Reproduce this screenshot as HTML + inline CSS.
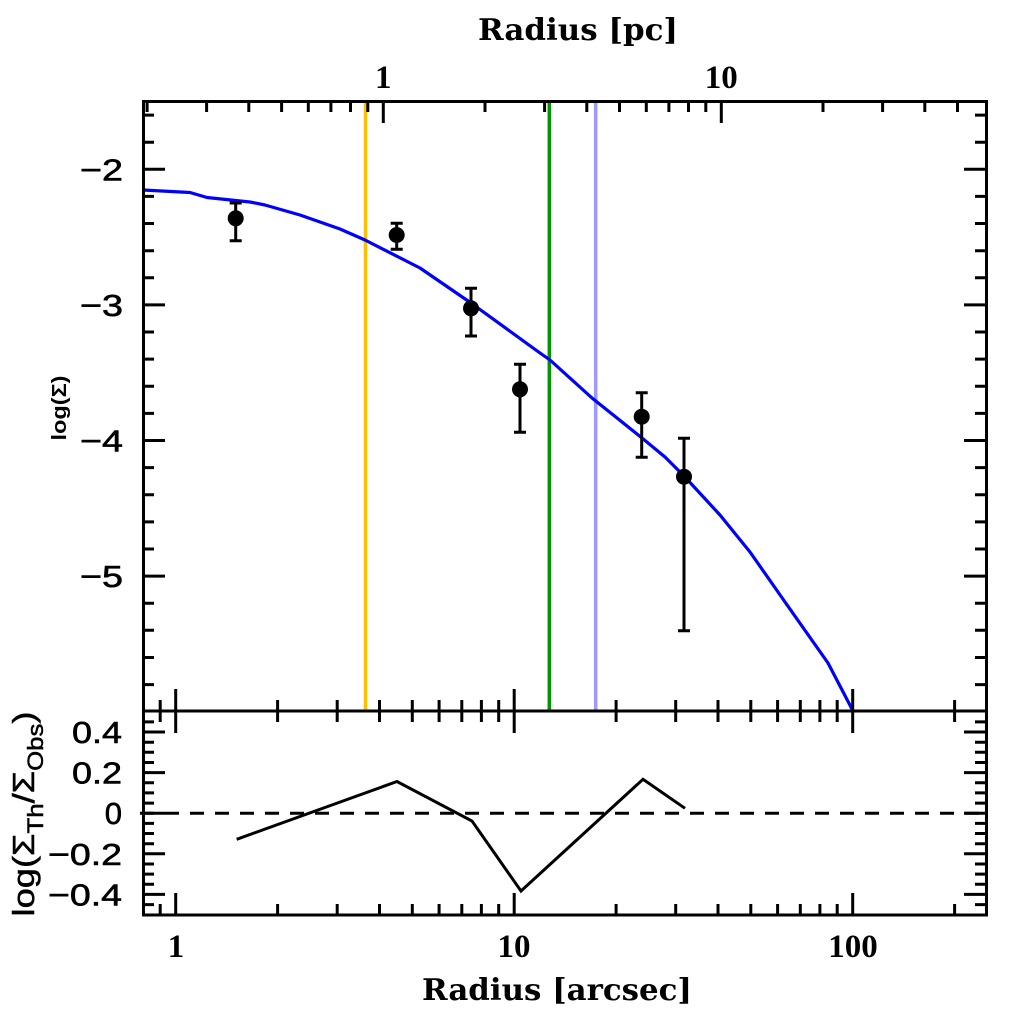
<!DOCTYPE html>
<html><head><meta charset="utf-8"><style>
html,body{margin:0;padding:0;background:#fff;}
svg{display:block;}
</style></head><body>
<svg xmlns="http://www.w3.org/2000/svg" width="1024" height="1024" viewBox="0 0 1024 1024">
<rect x="0" y="0" width="1024" height="1024" fill="#fff"/>
<!-- vertical reference lines -->
<g stroke-width="3.5" fill="none">
<line x1="365.5" y1="102" x2="365.5" y2="711" stroke="#ffc000"/>
<line x1="549.3" y1="102" x2="549.3" y2="711" stroke="#009600"/>
<line x1="595.7" y1="102" x2="595.7" y2="711" stroke="#9a9aff"/>
</g>
<!-- model curve -->
<polyline fill="none" stroke="#0000ff" stroke-width="3.2" stroke-linejoin="round" points="143,190 190,192.5 207,197.5 250,202 265,205 300,215 340,229 365,240 420,268 471,303 540,353 550,360 592,398 642,438 665,457 684,476 720,515 750,552 785,602 828,663 853,711"/>
<!-- error bars -->
<g stroke="#000" stroke-width="3" fill="none">
<path d="M235.7 203V240.7M229.7 203h12M229.7 240.7h12"/>
<path d="M396.7 223.3V249.3M390.7 223.3h12M390.7 249.3h12"/>
<path d="M471 288.3V336M465 288.3h12M465 336h12"/>
<path d="M520 364.3V432.3M514 364.3h12M514 432.3h12"/>
<path d="M641.7 392.7V457.3M635.7 392.7h12M635.7 457.3h12"/>
<path d="M684 438.3V630.7M678 438.3h12M678 630.7h12"/>
</g>
<g fill="#000">
<circle cx="235.7" cy="218.3" r="8"/>
<circle cx="396.7" cy="235" r="8"/>
<circle cx="471" cy="308.3" r="8"/>
<circle cx="520" cy="389.3" r="8"/>
<circle cx="641.7" cy="416.7" r="8"/>
<circle cx="684" cy="476.7" r="8"/>
</g>
<!-- residual panel -->
<line x1="140" y1="813.2" x2="986" y2="813.2" stroke="#000" stroke-width="3" stroke-dasharray="14 11"/>
<polyline fill="none" stroke="#000" stroke-width="3" stroke-linejoin="miter" points="236.7,839.3 397,781.5 472,821 521,891 643,779.3 685,808.3"/>
<!-- frame -->
<g stroke="#000" stroke-width="3" fill="none">
<rect x="143.5" y="101.5" width="843" height="813.5"/>
<line x1="143.5" y1="711" x2="986.5" y2="711"/>
<!-- left/right main ticks -->
<path d="M143 169.3h22M143 304.9h22M143 440.5h22M143 576.1h22
M143 115.1h11M143 142.2h11M143 196.4h11M143 223.5h11M143 250.7h11M143 277.8h11M143 332h11M143 359.1h11M143 386.3h11M143 413.4h11M143 467.6h11M143 494.7h11M143 521.9h11M143 549h11M143 603.2h11M143 630.3h11M143 657.5h11M143 684.6h11"/>
<path d="M986 169.3h-22M986 304.9h-22M986 440.5h-22M986 576.1h-22
M986 115.1h-11M986 142.2h-11M986 196.4h-11M986 223.5h-11M986 250.7h-11M986 277.8h-11M986 332h-11M986 359.1h-11M986 386.3h-11M986 413.4h-11M986 467.6h-11M986 494.7h-11M986 521.9h-11M986 549h-11M986 603.2h-11M986 630.3h-11M986 657.5h-11M986 684.6h-11"/>
<!-- left/right residual ticks -->
<path d="M143 732h22M143 772.6h22M143 813.2h22M143 853.8h22M143 894.4h22
M143 721.9h11M143 742.2h11M143 752.3h11M143 762.5h11M143 782.8h11M143 792.9h11M143 803.1h11M143 823.4h11M143 833.5h11M143 843.7h11M143 864h11M143 874.1h11M143 884.3h11M143 904.6h11"/>
<path d="M986 732h-22M986 772.6h-22M986 813.2h-22M986 853.8h-22M986 894.4h-22
M986 721.9h-11M986 742.2h-11M986 752.3h-11M986 762.5h-11M986 782.8h-11M986 792.9h-11M986 803.1h-11M986 823.4h-11M986 833.5h-11M986 843.7h-11M986 864h-11M986 874.1h-11M986 884.3h-11M986 904.6h-11"/>
<!-- top pc ticks -->
<path d="M383.3 101v22M721.3 101v22
M147.1 101v11M206.6 101v11M248.8 101v11M281.6 101v11M308.3 101v11M330.9 101v11M350.5 101v11M367.8 101v11M485 101v11M544.6 101v11M586.8 101v11M619.5 101v11M646.3 101v11M668.9 101v11M688.5 101v11M705.8 101v11M823 101v11M882.6 101v11M924.8 101v11M957.5 101v11"/>
<!-- divider ticks -->
<path d="M175.7 689v44M514.2 689v44M852.7 689v44
M160.2 700v22M277.6 700v22M337.2 700v22M379.5 700v22M412.3 700v22M439.1 700v22M461.8 700v22M481.4 700v22M498.7 700v22M616.1 700v22M675.7 700v22M718 700v22M750.8 700v22M777.6 700v22M800.3 700v22M819.9 700v22M837.2 700v22M954.6 700v22"/>
<!-- bottom ticks -->
<path d="M175.7 915v-22M514.2 915v-22M852.7 915v-22
M160.2 915v-11M277.6 915v-11M337.2 915v-11M379.5 915v-11M412.3 915v-11M439.1 915v-11M461.8 915v-11M481.4 915v-11M498.7 915v-11M616.1 915v-11M675.7 915v-11M718 915v-11M750.8 915v-11M777.6 915v-11M800.3 915v-11M819.9 915v-11M837.2 915v-11M954.6 915v-11"/>
</g>
<!-- titles -->
<g font-family="'DejaVu Serif', 'Liberation Serif', serif" font-weight="bold" font-size="30" fill="#000" text-anchor="middle">
<text x="578" y="40" textLength="200" lengthAdjust="spacingAndGlyphs">Radius [pc]</text>
<text x="557" y="1000" textLength="270" lengthAdjust="spacingAndGlyphs">Radius [arcsec]</text>
</g>
<!-- x tick labels -->
<g font-family="'Liberation Serif', serif" font-weight="bold" font-size="33" fill="#000" text-anchor="middle">
<text x="383.3" y="88">1</text>
<text x="721.3" y="88">10</text>
<text x="176" y="957">1</text>
<text x="514" y="957">10</text>
<text x="853" y="957">100</text>
</g>
<!-- y tick labels -->
<g font-family="'Liberation Sans', sans-serif" font-size="31" fill="#000" stroke="#000" stroke-width="0.6" text-anchor="end">
<text x="123" y="180.5" textLength="43" lengthAdjust="spacingAndGlyphs">−2</text>
<text x="123" y="316" textLength="43" lengthAdjust="spacingAndGlyphs">−3</text>
<text x="123" y="451.5" textLength="43" lengthAdjust="spacingAndGlyphs">−4</text>
<text x="123" y="587" textLength="43" lengthAdjust="spacingAndGlyphs">−5</text>
<text x="122" y="743" textLength="50" lengthAdjust="spacingAndGlyphs">0.4</text>
<text x="122" y="783.6" textLength="50" lengthAdjust="spacingAndGlyphs">0.2</text>
<text x="122" y="824.2">0</text>
<text x="122" y="864.8" textLength="74" lengthAdjust="spacingAndGlyphs">−0.2</text>
<text x="122" y="905.4" textLength="74" lengthAdjust="spacingAndGlyphs">−0.4</text>
</g>
<!-- y axis titles -->
<text transform="translate(66,408) rotate(-90)" font-family="'Liberation Sans', sans-serif" font-weight="bold" font-size="20" text-anchor="middle" textLength="65" lengthAdjust="spacingAndGlyphs" fill="#000">log(Σ)</text>
<text transform="translate(34,814) rotate(-90)" font-family="'Liberation Sans', sans-serif" font-size="31" stroke="#000" stroke-width="0.5" text-anchor="middle" textLength="205" lengthAdjust="spacingAndGlyphs" fill="#000">log(Σ<tspan font-size="22" dy="9">Th</tspan><tspan dy="-9">/Σ</tspan><tspan font-size="22" dy="9">Obs</tspan><tspan dy="-9">)</tspan></text>
</svg>
</body></html>
